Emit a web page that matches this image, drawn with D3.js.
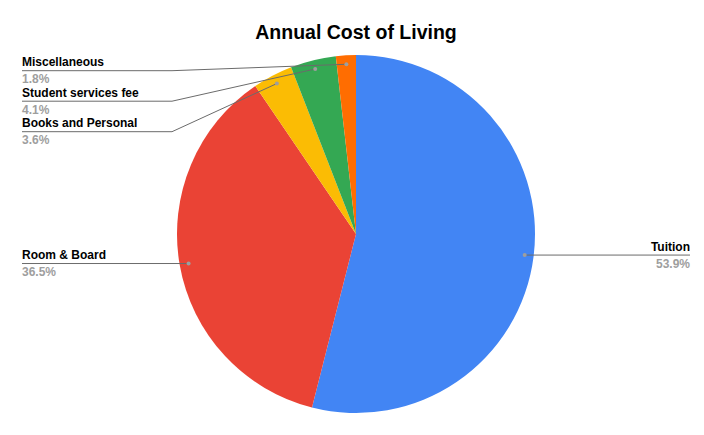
<!DOCTYPE html>
<html><head><meta charset="utf-8">
<script src="https://cdn.jsdelivr.net/npm/d3@7"></script>
<style>body{margin:0;background:#fff}svg{display:block}</style>
</head><body>
<script>
const categories = ["Tuition", "Room & Board", "Books and Personal", "Student services fee", "Miscellaneous"];
const values = [53.9, 36.5, 3.6, 4.1, 1.8];
const colors = ["#4285F4", "#EA4335", "#FBBC04", "#34A853", "#FF6D01"];
const title = "Annual Cost of Living";

const W = 704, H = 435;
const cx = 356, cy = 234, R = 179, dotR = 170;
const font = "'Liberation Sans', Arial, sans-serif";

const svg = d3.select("body").append("svg").attr("width", W).attr("height", H);

svg.append("text").attr("x", 356).attr("y", 39).attr("text-anchor", "middle")
  .attr("font-family", font).attr("font-weight", "bold").attr("font-size", 19.5)
  .attr("fill", "#000").text(title);

const data = categories.map((c, i) => ({name: c, value: values[i], color: colors[i]}));
const pie = d3.pie().value(d => d.value).sort(null);
const arcs = pie(data);
const arc = d3.arc().innerRadius(0).outerRadius(R);

const g = svg.append("g").attr("transform", `translate(${cx},${cy})`);
g.selectAll("path").data(arcs).join("path")
  .attr("d", arc).attr("fill", d => d.data.color);

// label layout
const items = arcs.map(a => {
  const m = (a.startAngle + a.endAngle) / 2;
  return {a, x: cx + Math.sin(m) * dotR, y: cy - Math.cos(m) * dotR, left: Math.sin(m) < 0};
});
const leftItems = items.filter(d => d.left).sort((p, q) => p.y - q.y);
let prev = 40.2;
leftItems.forEach(d => { d.ly = Math.max(d.y, prev + 30.5); prev = d.ly; });
items.filter(d => !d.left).forEach(d => { d.ly = d.y; });

const lineColor = "#6b6b6b", dotColor = "#9e9e9e";
items.forEach(d => {
  const lx = d.left ? 22 : 690;
  const elbowX = d.left ? 172 : 690;
  let pts;
  if (Math.abs(d.ly - d.y) < 0.5) pts = [[lx, d.y], [d.x, d.y]];
  else pts = [[lx, d.ly], [elbowX, d.ly], [d.x, d.y]];
  svg.append("path").attr("d", d3.line()(pts)).attr("fill", "none")
    .attr("stroke", lineColor).attr("stroke-width", 1);
  svg.append("circle").attr("cx", d.x).attr("cy", d.y).attr("r", 2).attr("fill", dotColor);
  const anchor = d.left ? "start" : "end";
  svg.append("text").attr("x", lx).attr("y", d.ly - 4.5).attr("text-anchor", anchor)
    .attr("font-family", font).attr("font-weight", "bold").attr("font-size", 12)
    .attr("fill", "#000").text(d.a.data.name);
  svg.append("text").attr("x", lx).attr("y", d.ly + 12.5).attr("text-anchor", anchor)
    .attr("font-family", font).attr("font-weight", "bold").attr("font-size", 12)
    .attr("fill", "#9e9e9e").text(d3.format(".1f")(d.a.data.value) + "%");
});
</script>
</body></html>
